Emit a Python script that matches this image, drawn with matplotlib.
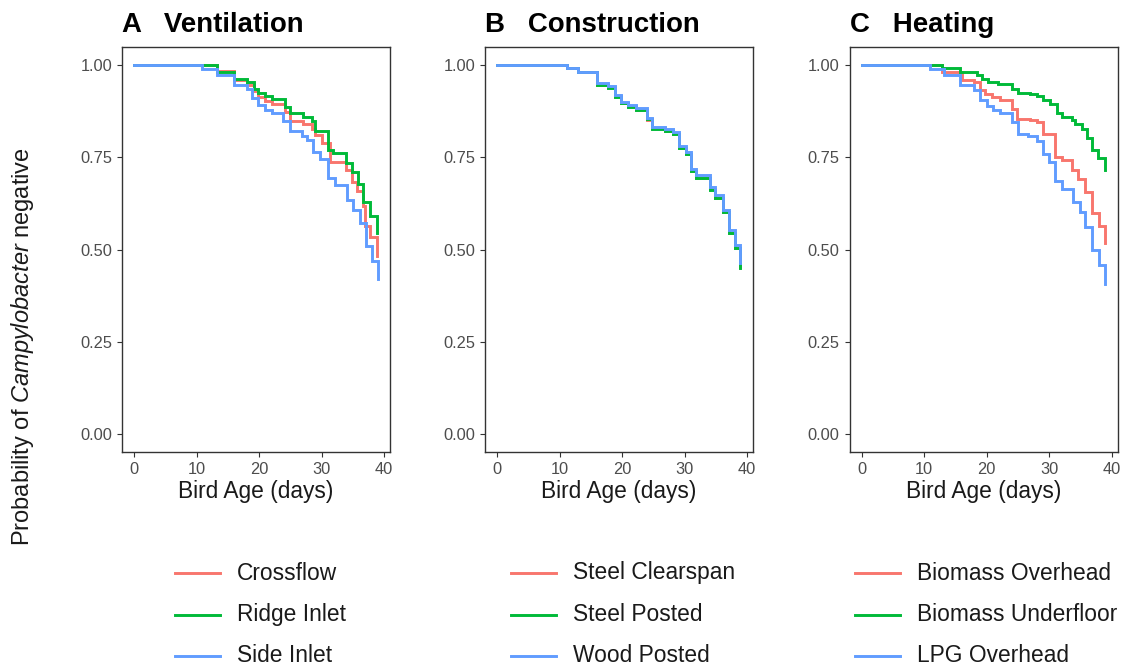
import matplotlib
matplotlib.use("Agg")
import matplotlib.pyplot as plt
from matplotlib.lines import Line2D

plt.rcParams['font.family'] = ['Liberation Sans', 'DejaVu Sans']
plt.rcParams['mathtext.fontset'] = 'custom'
plt.rcParams['mathtext.rm'] = 'Liberation Sans'
plt.rcParams['mathtext.it'] = 'Liberation Sans:italic'

# ---- Kaplan-Meier step data (bird age in days, probability Campylobacter negative) ----
# A: Ventilation
vent_labels = ["Crossflow", "Ridge Inlet", "Side Inlet"]
crossflow_t = [0, 13.2, 16.0, 18.0, 19.1, 19.9, 21.0, 22.0, 24.2, 25.0, 27.1, 28.4, 29.0, 30.0, 31.4, 33.9, 34.9, 35.6, 36.6, 37.0, 37.8, 38.9]
crossflow_s = [1.0, 0.985, 0.960, 0.947, 0.930, 0.915, 0.904, 0.895, 0.874, 0.849, 0.841, 0.828, 0.812, 0.790, 0.738, 0.717, 0.683, 0.660, 0.617, 0.565, 0.533, 0.482]
ridge_t = [0, 13.2, 16.0, 18.0, 19.1, 19.9, 21.0, 22.0, 24.2, 25.0, 27.1, 28.4, 29.0, 31.0, 31.9, 33.9, 34.9, 35.8, 36.6, 37.8, 38.9]
ridge_s = [1.0, 0.981, 0.963, 0.954, 0.935, 0.926, 0.917, 0.910, 0.888, 0.870, 0.861, 0.850, 0.823, 0.769, 0.762, 0.735, 0.710, 0.678, 0.629, 0.592, 0.544]
side_t = [0, 10.8, 13.2, 16.0, 18.0, 18.8, 19.9, 21.0, 22.0, 23.9, 25.0, 26.8, 27.6, 28.7, 29.8, 31.1, 32.2, 34.0, 35.1, 36.1, 37.1, 38.0, 39.0]
side_s = [1.0, 0.991, 0.974, 0.947, 0.937, 0.912, 0.893, 0.880, 0.870, 0.850, 0.822, 0.808, 0.798, 0.765, 0.746, 0.693, 0.675, 0.634, 0.606, 0.571, 0.510, 0.470, 0.420]

# B: Construction
cons_labels = ["Steel Clearspan", "Steel Posted", "Wood Posted"]
cons_t = [0, 11.2, 12.9, 15.9, 17.8, 18.8, 19.9, 21.0, 22.3, 24.0, 24.8, 26.9, 28.2, 29.1, 30.2, 31.1, 31.9, 34.0, 34.8, 36.1, 37.1, 38.0, 38.9]
clearspan_s = [1.0, 0.993, 0.981, 0.948, 0.942, 0.916, 0.898, 0.889, 0.880, 0.852, 0.829, 0.822, 0.815, 0.777, 0.760, 0.713, 0.695, 0.663, 0.641, 0.602, 0.546, 0.505, 0.452]
posted_s = [1.0, 0.993, 0.981, 0.946, 0.940, 0.915, 0.897, 0.887, 0.878, 0.854, 0.828, 0.821, 0.814, 0.776, 0.760, 0.712, 0.694, 0.662, 0.640, 0.601, 0.545, 0.504, 0.450]
wood_s = [1.0, 0.993, 0.981, 0.951, 0.945, 0.919, 0.901, 0.892, 0.883, 0.858, 0.833, 0.827, 0.820, 0.782, 0.766, 0.719, 0.701, 0.669, 0.647, 0.608, 0.552, 0.511, 0.462]

# C: Heating
heat_labels = ["Biomass Overhead", "Biomass Underfloor", "LPG Overhead"]
bio_over_t = [0, 12.8, 16.0, 17.9, 18.9, 19.7, 20.8, 22.1, 24.0, 24.8, 26.9, 28.0, 29.1, 30.9, 31.0, 32.0, 33.6, 34.7, 35.7, 36.8, 38.0, 38.9]
bio_over_s = [1.0, 0.982, 0.961, 0.955, 0.932, 0.921, 0.914, 0.905, 0.882, 0.855, 0.851, 0.846, 0.814, 0.801, 0.751, 0.744, 0.715, 0.692, 0.656, 0.599, 0.565, 0.517]
bio_under_t = [0, 12.8, 15.7, 18.4, 19.2, 20.3, 21.9, 24.0, 25.1, 26.9, 28.0, 29.1, 30.1, 31.2, 32.0, 33.6, 34.1, 35.2, 36.0, 36.8, 37.9, 38.9]
bio_under_s = [1.0, 0.994, 0.982, 0.973, 0.964, 0.955, 0.950, 0.937, 0.925, 0.921, 0.916, 0.905, 0.894, 0.870, 0.861, 0.851, 0.840, 0.826, 0.803, 0.769, 0.749, 0.717]
lpg_t = [0, 10.9, 13.1, 15.7, 17.9, 18.9, 20.0, 21.1, 22.1, 24.0, 25.0, 26.7, 28.0, 29.1, 30.0, 31.0, 32.0, 33.9, 34.9, 35.8, 36.9, 38.0, 38.9]
lpg_s = [1.0, 0.991, 0.973, 0.946, 0.934, 0.907, 0.891, 0.880, 0.870, 0.846, 0.814, 0.807, 0.796, 0.760, 0.737, 0.686, 0.665, 0.629, 0.601, 0.561, 0.498, 0.457, 0.407]

x_ticks = [0, 10, 20, 30, 40]
y_ticks = [0.00, 0.25, 0.50, 0.75, 1.00]
colors = ["#F8766D", "#00BA38", "#619CFF"]

panels = [
    ("A", "Ventilation", vent_labels,
     [(crossflow_t, crossflow_s), (ridge_t, ridge_s), (side_t, side_s)]),
    ("B", "Construction", cons_labels,
     [(cons_t, clearspan_s), (cons_t, posted_s), (cons_t, wood_s)]),
    ("C", "Heating", heat_labels,
     [(bio_over_t, bio_over_s), (bio_under_t, bio_under_s), (lpg_t, lpg_s)]),
]

W, H = 1129, 671
fig = plt.figure(figsize=(W / 100, H / 100), dpi=100)
fig.patch.set_facecolor("white")

# panel boxes in pixel coordinates: (left, top, right, bottom)
boxes = [(122, 47, 390, 452), (485, 47, 753, 452), (849.5, 47, 1117.5, 452)]
# left edge of each legend's key lines (legends sit centred under their panel)
legend_x = [175, 511, 855]
frame_col = "#333333"
tick_col = "#4D4D4D"

for (tag, title, labels, series), (l, t, r, b), kx in zip(panels, boxes, legend_x):
    ax = fig.add_axes([l / W, 1 - b / H, (r - l) / W, (b - t) / H])
    for (tt, ss), c in zip(series, colors):
        ax.step(tt, ss, where="post", color=c, lw=2.1, solid_joinstyle="miter")
    ax.set_xlim(-1.95, 40.95)
    ax.set_ylim(-0.05, 1.05)
    ax.set_xticks(x_ticks)
    ax.set_xticklabels([str(v) for v in x_ticks])
    ax.set_yticks(y_ticks)
    ax.set_yticklabels([f"{v:.2f}" for v in y_ticks])
    for sp in ax.spines.values():
        sp.set_color(frame_col)
        sp.set_linewidth(1.0)
    ax.tick_params(axis="both", length=3.6, width=0.8, color=frame_col,
                   labelcolor=tick_col, labelsize=11.8)
    ax.tick_params(axis="y", pad=3.5)
    ax.tick_params(axis="x", pad=3.5)
    ax.set_xlabel("Bird Age (days)", fontsize=16.4, color="#1A1A1A", labelpad=2)

    # panel tag and title
    fig.text(l / W, 1 - 32 / H, tag + "   " + title, fontsize=19.9,
             fontweight="bold", color="black", va="baseline", ha="left")

    # legend below the panel
    key_x0 = kx
    key_x1 = key_x0 + 45
    text_x = key_x0 + 62
    for i, (lab, c) in enumerate(zip(labels, colors)):
        yy = 573 + i * 41.5
        fig.add_artist(Line2D([key_x0 / W, key_x1 / W], [1 - yy / H, 1 - yy / H],
                              color=c, lw=2.1, transform=fig.transFigure))
        fig.text(text_x / W, 1 - yy / H, lab, fontsize=16.4, color="#1A1A1A",
                 va="center", ha="left")

fig.text(23 / W, 1 - 347 / H, r"Probability of $\mathit{Campylobacter}$ negative",
         rotation=90, fontsize=17, color="#1A1A1A", va="center", ha="center")

fig.savefig("out.png", dpi=100, facecolor="white")
